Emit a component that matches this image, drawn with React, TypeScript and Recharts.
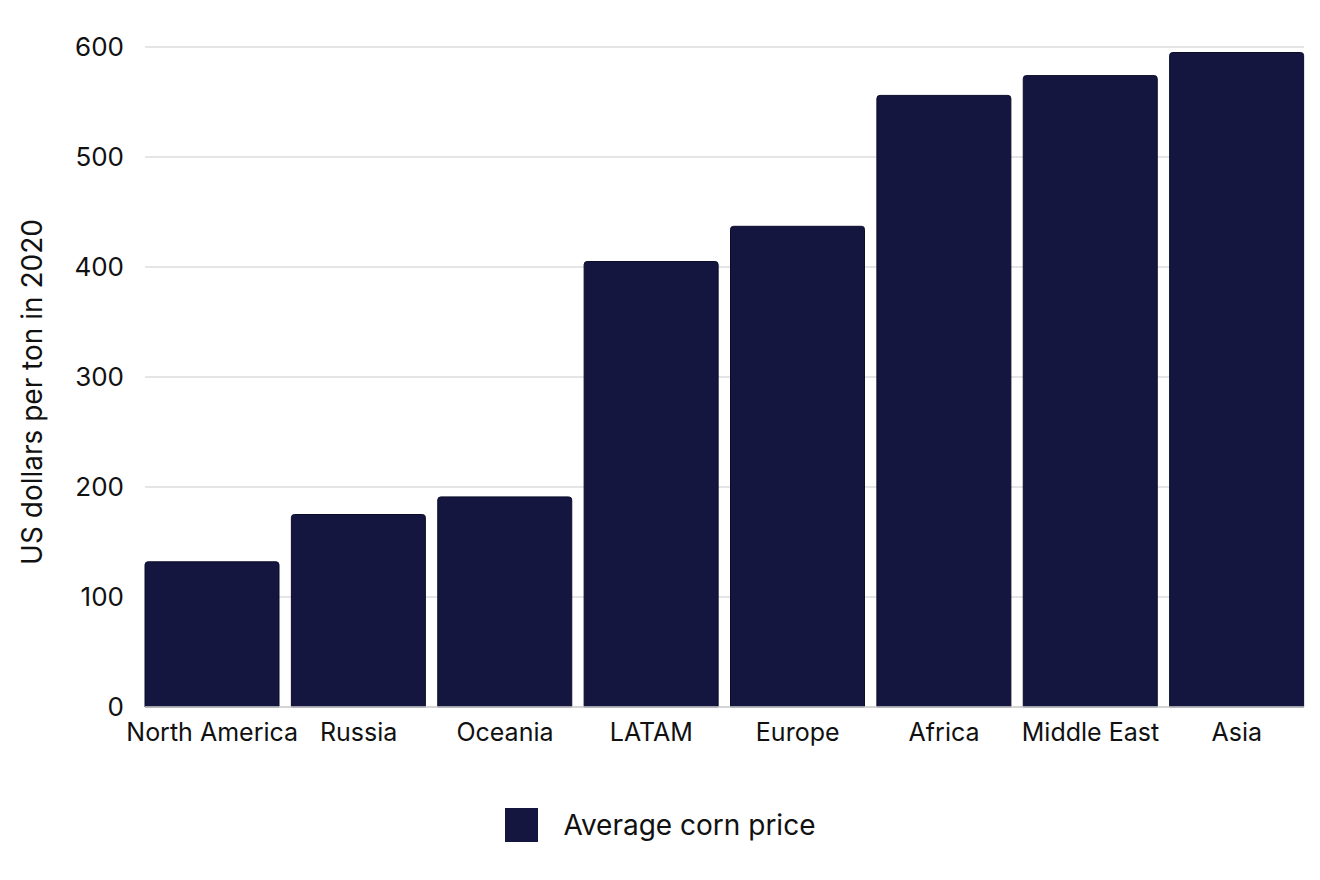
import React from 'react';
import { BarChart, Bar, XAxis, YAxis, CartesianGrid, Legend } from 'recharts';

const regions = ['North America', 'Russia', 'Oceania', 'LATAM', 'Europe', 'Africa', 'Middle East', 'Asia'];
const cornPrice = [132, 175, 191, 405, 437, 556, 574, 595];
const yTicks = [0, 100, 200, 300, 400, 500, 600];

const data = regions.map((r, i) => ({ region: r, price: cornPrice[i] }));

const FONT = 'Inter, "Noto Sans", sans-serif';
const BAR = '#15163f';

const renderLegend = () => (
  <div style={{ display: 'flex', justifyContent: 'center', alignItems: 'center', fontFamily: FONT }}>
    <div style={{ width: 33, height: 34, background: BAR, marginRight: 26 }} />
    <span style={{ fontSize: 28, color: '#111' }}>Average corn price</span>
  </div>
);

const YLabel = (props: any) => {
  const vb = props.viewBox || {};
  const cx = 32;
  const cy = vb.y + vb.height / 2 + 15;
  return (
    <text x={cx} y={cy} transform={`rotate(-90, ${cx}, ${cy})`} textAnchor="middle" dominantBaseline="central"
      fontFamily={FONT} fontSize={28} fill="#111">
      US dollars per ton in 2020
    </text>
  );
};

export default function App() {
  return (
    <div style={{ position: 'absolute', left: 0, top: 0, background: '#fff' }}>
      <BarChart width={1320} height={880} data={data} margin={{ top: 47, right: 16, bottom: 133, left: 60 }}
        barCategoryGap={6}>
        <CartesianGrid vertical={false} stroke="#dcdcdc" strokeWidth={1.5} />
        <XAxis dataKey="region" padding={{ left: -6, right: -6 }} height={40} tickLine={false}
          axisLine={{ stroke: '#cfcfcf', strokeWidth: 1.5 }} tickSize={0} tickMargin={16}
          tick={{ fontFamily: FONT, fontSize: 25, fill: '#111' }} interval={0} />
        <YAxis width={85} domain={[0, 600]} ticks={yTicks} axisLine={false} tickLine={false} tickSize={0}
          tickMargin={21} tick={{ fontFamily: FONT, fontSize: 26, fill: '#111' }}
          label={<YLabel />} />
        <Legend verticalAlign="middle" align="center" content={renderLegend}
          wrapperStyle={{ top: 808, left: 0, width: 1320 }} />
        <Bar dataKey="price" name="Average corn price" fill={BAR} stroke="#0b0c2a" strokeWidth={1}
          radius={[3, 3, 0, 0]} isAnimationActive={false} />
      </BarChart>
    </div>
  );
}
